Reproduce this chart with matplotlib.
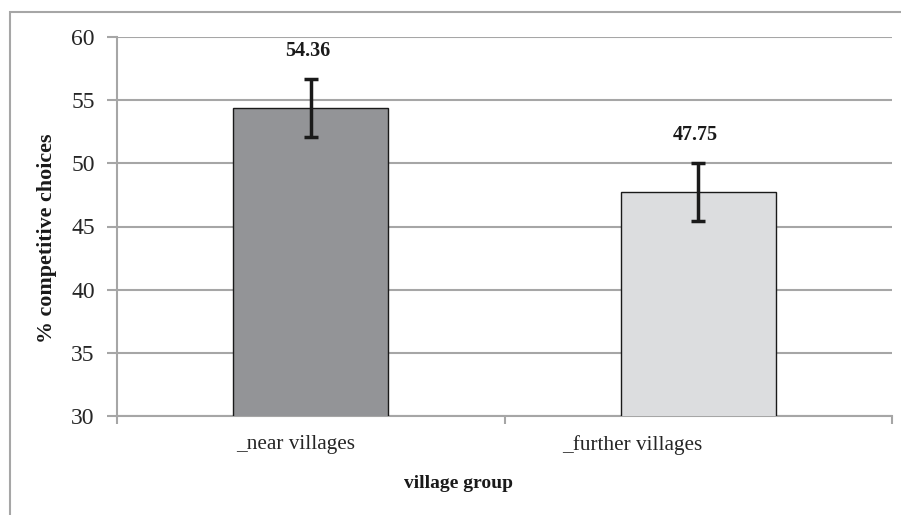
import matplotlib
matplotlib.use("Agg")
import matplotlib.pyplot as plt
import matplotlib.transforms as mtransforms
from matplotlib.patches import Rectangle

categories = ["_near villages", "_further villages"]
values = [54.36, 47.75]
errors = [2.3, 2.3]
labels = ["54.36", "47.75"]
colors = ["#939497", "#dcdddf"]
yticks = [30, 35, 40, 45, 50, 55, 60]

plt.rcParams['font.family'] = ['Liberation Serif', 'DejaVu Serif']

W, H = 901, 515
fig = plt.figure(figsize=(W / 100, H / 100), dpi=100)
fig.patch.set_facecolor("white")

# outer chart border (top & left visible, continues off right/bottom)
fig.add_artist(Rectangle((10 / W, -0.05), 1.1, 1 - 12 / H + 0.05,
                         transform=fig.transFigure, fill=False,
                         edgecolor="#a6a6a6", linewidth=1.5))

ax = fig.add_axes([117 / W, 1 - 416 / H, (892 - 117) / W, (416 - 37) / H])
x = list(range(len(categories)))
ax.bar(x, values, width=0.4, color=colors, edgecolor="#1a1a1a", linewidth=1.0, zorder=3)
ax.errorbar(x, values, yerr=errors, fmt="none", ecolor="#1a1a1a", elinewidth=2.5,
            capsize=5, capthick=2.5, zorder=4)

for xi, v, e, lab in zip(x, values, errors, labels):
    ax.annotate(lab, xy=(xi, v + e), xytext=(-3, 28), textcoords="offset pixels",
                ha="center", va="center", fontsize=14.5, fontweight="bold", color="#1a1a1a")

ax.set_xlim(-0.5, 1.5)
ax.set_ylim(30, 60)
ax.set_yticks(yticks)
ax.yaxis.grid(True, color="#a6a6a6", linewidth=1.5, zorder=0)
ax.set_axisbelow(True)

# category boundary ticks
ax.set_xticks([-0.5, 0.5, 1.5])
ax.set_xticklabels(["", "", ""])
ax.tick_params(axis="x", length=6, width=1.5, color="#a6a6a6", direction="out")
ax.tick_params(axis="y", length=7, width=1.5, color="#a6a6a6", direction="out",
               labelsize=17, pad=9, labelcolor="#262626")

offsets = [-15, -66]
for xi, cat, off in zip(x, categories, offsets):
    tr = ax.get_xaxis_transform() + mtransforms.ScaledTranslation(off / 100, 0, fig.dpi_scale_trans)
    ax.text(xi, -0.076, cat, transform=tr, ha="center", va="center",
            fontsize=15.3, color="#262626")

for s in ["top", "right"]:
    ax.spines[s].set_visible(False)
for s in ["left", "bottom"]:
    ax.spines[s].set_color("#a6a6a6")
    ax.spines[s].set_linewidth(1.5)

fig.text(458 / W, 1 - 483 / H, "village group", ha="center", va="center",
         fontsize=14, fontweight="bold", color="#1a1a1a")
fig.text(47 / W, 1 - 238 / H, "% competitive choices", ha="center", va="center",
         rotation=90, fontsize=15.8, fontweight="bold", color="#1a1a1a")

fig.savefig("out.png", dpi=100)
